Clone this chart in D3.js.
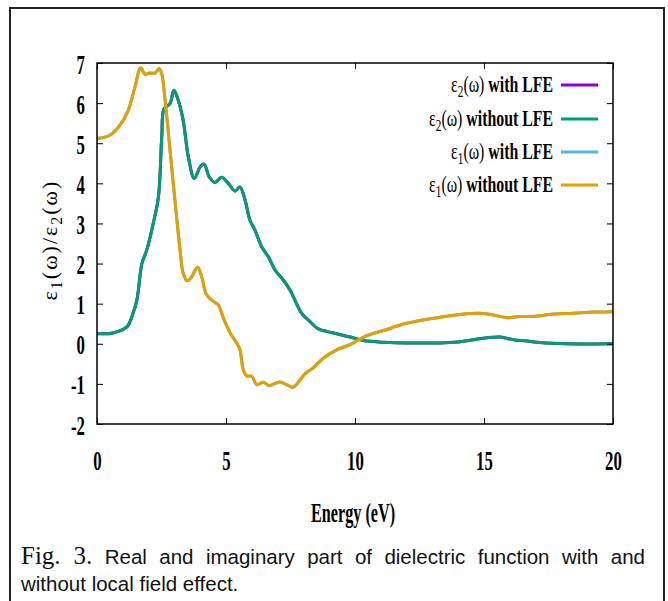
<!DOCTYPE html>
<html>
<head>
<meta charset="utf-8">
<script src="https://cdn.jsdelivr.net/npm/d3@7"></script>
<style>
  html, body { margin: 0; padding: 0; background: #fff; }
  svg { display: block; }
</style>
</head>
<body>
<svg id="chart" width="668" height="601"></svg>
<script>
// ---------- DATA ----------
const xTicks = [0, 5, 10, 15, 20];
const yTicks = [-2, -1, 0, 1, 2, 3, 4, 5, 6, 7];

// Imaginary part eps2(omega)
const energyEps2 = [0, 0.62, 1.16, 1.4, 1.55, 1.74, 1.93, 2.18, 2.38, 2.51, 2.6, 2.83, 2.98, 3.15, 3.34, 3.54, 3.77, 4.0, 4.15, 4.35, 4.57, 4.83, 5.09, 5.35, 5.54, 5.74, 5.93, 6.12, 6.38, 6.64, 6.9, 7.22, 7.48, 7.67, 7.93, 8.26, 8.58, 9.16, 9.81, 10.32, 11.1, 12.0, 13.68, 14.59, 15.1, 15.62, 16.14, 16.66, 17.17, 18.2, 20];
const eps2WithoutLFE = [0.25, 0.27, 0.42, 0.77, 1.1, 2.0, 2.34, 3.0, 3.66, 5.16, 5.86, 5.99, 6.32, 6.07, 5.57, 4.66, 4.12, 4.41, 4.48, 4.16, 4.02, 4.15, 4.0, 3.81, 3.91, 3.58, 3.08, 2.84, 2.42, 2.17, 1.84, 1.59, 1.34, 1.09, 0.76, 0.55, 0.37, 0.27, 0.17, 0.08, 0.04, 0.02, 0.03, 0.1, 0.15, 0.17, 0.1, 0.07, 0.03, 0.0, 0.0];
const eps2WithLFE = [0.25, 0.27, 0.42, 0.77, 1.1, 2.0, 2.34, 3.0, 3.66, 5.16, 5.86, 5.99, 6.32, 6.07, 5.57, 4.66, 4.12, 4.41, 4.48, 4.16, 4.02, 4.15, 4.0, 3.81, 3.91, 3.58, 3.08, 2.84, 2.42, 2.17, 1.84, 1.59, 1.34, 1.09, 0.76, 0.55, 0.37, 0.27, 0.17, 0.08, 0.04, 0.02, 0.03, 0.1, 0.15, 0.17, 0.1, 0.07, 0.03, 0.0, 0.0];

// Real part eps1(omega)
const energyEps1 = [0, 0.5, 0.89, 1.21, 1.47, 1.69, 1.86, 2.05, 2.25, 2.41, 2.51, 2.64, 2.83, 3.02, 3.22, 3.34, 3.5, 3.67, 3.9, 4.06, 4.25, 4.57, 4.7, 4.9, 5.16, 5.41, 5.54, 5.67, 5.8, 6.0, 6.19, 6.45, 6.68, 7.09, 7.35, 7.61, 8.06, 8.38, 8.77, 9.29, 9.81, 10.45, 11.1, 12.0, 13.29, 14.33, 14.84, 15.36, 15.88, 16.4, 16.91, 17.69, 18.46, 19.24, 20];
const eps1WithoutLFE = [5.12, 5.2, 5.45, 5.82, 6.4, 6.88, 6.72, 6.75, 6.75, 6.86, 6.73, 6.07, 4.83, 3.58, 2.34, 1.76, 1.57, 1.67, 1.91, 1.67, 1.22, 1.03, 0.97, 0.64, 0.27, 0.02, -0.15, -0.65, -0.8, -0.81, -1.02, -0.96, -1.04, -0.95, -1.02, -1.08, -0.75, -0.6, -0.36, -0.15, -0.02, 0.2, 0.33, 0.51, 0.66, 0.75, 0.76, 0.72, 0.65, 0.68, 0.68, 0.74, 0.76, 0.79, 0.8];
const eps1WithLFE = [5.12, 5.2, 5.45, 5.82, 6.4, 6.88, 6.72, 6.75, 6.75, 6.86, 6.73, 6.07, 4.83, 3.58, 2.34, 1.76, 1.57, 1.67, 1.91, 1.67, 1.22, 1.03, 0.97, 0.64, 0.27, 0.02, -0.15, -0.65, -0.8, -0.81, -1.02, -0.96, -1.04, -0.95, -1.02, -1.08, -0.75, -0.6, -0.36, -0.15, -0.02, 0.2, 0.33, 0.51, 0.66, 0.75, 0.76, 0.72, 0.65, 0.68, 0.68, 0.74, 0.76, 0.79, 0.8];

const seriesNames = ["with LFE", "without LFE", "with LFE", "without LFE"];
const seriesSymbols = ["2", "2", "1", "1"];
const seriesColors = ["#9400d3", "#009e73", "#56b4e9", "#e69f00"];

// ---------- CHART ----------
const svg = d3.select("#chart");
const plot = { left: 97, right: 613, top: 63, bottom: 424 };
const SX = 0.6; // horizontal compression of the gnuplot-style bold labels

const x = d3.scaleLinear().domain([0, 20]).range([plot.left, plot.right]);
const y = d3.scaleLinear().domain([-2, 7]).range([plot.bottom, plot.top]);

// outer figure frame
svg.append("rect")
  .attr("x", 10).attr("y", 8).attr("width", 654).attr("height", 620)
  .attr("fill", "none").attr("stroke", "#222").attr("stroke-width", 2);

// curves
const seriesData = [
  { e: energyEps2, v: eps2WithLFE },
  { e: energyEps2, v: eps2WithoutLFE },
  { e: energyEps1, v: eps1WithLFE },
  { e: energyEps1, v: eps1WithoutLFE }
];
const line = d3.line()
  .x(d => x(d[0])).y(d => y(d[1]))
  .curve(d3.curveCatmullRom.alpha(0.5));

svg.append("clipPath").attr("id", "clip").append("rect")
  .attr("x", plot.left).attr("y", plot.top)
  .attr("width", plot.right - plot.left).attr("height", plot.bottom - plot.top);

const curves = svg.append("g").attr("clip-path", "url(#clip)");
seriesData.forEach((s, i) => {
  curves.append("path")
    .datum(s.e.map((e, j) => [e, s.v[j]]))
    .attr("d", line)
    .attr("fill", "none")
    .attr("stroke", seriesColors[i])
    .attr("stroke-width", 3)
    .attr("stroke-linejoin", "round")
    .attr("stroke-linecap", "round");
});

// axes (inward ticks, gnuplot style)
const tickFont = "'Liberation Serif', 'Times New Roman', serif";
const fmt = d => String(d);
function styleAxis(g) {
  g.select(".domain").remove();
  g.selectAll(".tick line").attr("stroke", "#000").attr("stroke-width", 1);
}
const gLeft = svg.append("g").attr("transform", `translate(${plot.left},0)`)
  .call(d3.axisLeft(y).tickValues(yTicks).tickSizeInner(-6).tickSizeOuter(0).tickPadding(12).tickFormat(fmt));
styleAxis(gLeft);
gLeft.selectAll(".tick text").each(function () {
  const t = d3.select(this);
  t.attr("x", -12 / SX).attr("transform", `scale(${SX},1)`)
    .attr("dy", "0.36em")
    .style("font-family", tickFont).style("font-weight", "bold").style("font-size", "28px").attr("fill", "#000");
});

const gBottom = svg.append("g").attr("transform", `translate(0,${plot.bottom})`)
  .call(d3.axisBottom(x).tickValues(xTicks).tickSizeInner(-6).tickSizeOuter(0).tickPadding(26).tickFormat(fmt));
styleAxis(gBottom);
gBottom.selectAll(".tick text")
  .attr("transform", `scale(${SX},1)`)
  .style("font-family", tickFont).style("font-weight", "bold").style("font-size", "28px").attr("fill", "#000");

const gTop = svg.append("g").attr("transform", `translate(0,${plot.top})`)
  .call(d3.axisTop(x).tickValues(xTicks).tickSizeInner(-6).tickSizeOuter(0).tickFormat(""));
styleAxis(gTop);
const gRight = svg.append("g").attr("transform", `translate(${plot.right},0)`)
  .call(d3.axisRight(y).tickValues(yTicks).tickSizeInner(-6).tickSizeOuter(0).tickFormat(""));
styleAxis(gRight);

// plot border
svg.append("rect")
  .attr("x", plot.left).attr("y", plot.top)
  .attr("width", plot.right - plot.left).attr("height", plot.bottom - plot.top)
  .attr("fill", "none").attr("stroke", "#000").attr("stroke-width", 1.5);

// legend
const legendRows = [85, 119, 152, 185];
const leg = svg.append("g");
seriesNames.forEach((name, i) => {
  const cy = legendRows[i];
  const t = leg.append("text")
    .attr("transform", `translate(553,${cy + 7}) scale(0.66,1)`)
    .attr("text-anchor", "end")
    .style("font-family", tickFont).style("font-size", "24px").attr("fill", "#000");
  t.append("tspan").text("ε");
  t.append("tspan").attr("dy", 5).style("font-size", "17px").text(seriesSymbols[i]);
  t.append("tspan").attr("dy", -5).text("(ω) ");
  t.append("tspan").style("font-weight", "bold").text(name);
  leg.append("line")
    .attr("x1", 561).attr("x2", 598).attr("y1", cy).attr("y2", cy)
    .attr("stroke", seriesColors[i]).attr("stroke-width", 3);
});

// axis titles
svg.append("text")
  .attr("transform", `translate(353,522) scale(${SX},1)`)
  .attr("text-anchor", "middle")
  .style("font-family", tickFont).style("font-weight", "bold").style("font-size", "27px")
  .text("Energy (eV)");

const yl = svg.append("text")
  .attr("transform", "translate(57,240) rotate(-90)")
  .attr("text-anchor", "middle")
  .style("font-family", tickFont).style("font-size", "22px").style("letter-spacing", "2px");
yl.append("tspan").text("ε");
yl.append("tspan").attr("dy", 5).style("font-size", "16px").text("1");
yl.append("tspan").attr("dy", -5).text("(ω)/ε");
yl.append("tspan").attr("dy", 5).style("font-size", "16px").text("2");
yl.append("tspan").attr("dy", -5).text("(ω)");

// caption (justified first line)
const cap1 = svg.append("text").attr("x", 21).attr("y", 564)
  .style("font-family", "'Liberation Sans', Arial, sans-serif").style("font-size", "20.5px").attr("fill", "#111");
cap1.append("tspan").style("font-family", "'Liberation Serif', 'Times New Roman', serif").style("font-size", "25px").text("Fig. 3.");
cap1.append("tspan").text(" Real and imaginary part of dielectric function with and");
const natural = cap1.node().getComputedTextLength();
const spaces = 10;
cap1.style("word-spacing", Math.max(0, (645 - 21 - natural) / spaces) + "px");

svg.append("text").attr("x", 21).attr("y", 591)
  .style("font-family", "'Liberation Sans', Arial, sans-serif").style("font-size", "20.5px").attr("fill", "#111")
  .text("without local field effect.");
</script>
</body>
</html>
